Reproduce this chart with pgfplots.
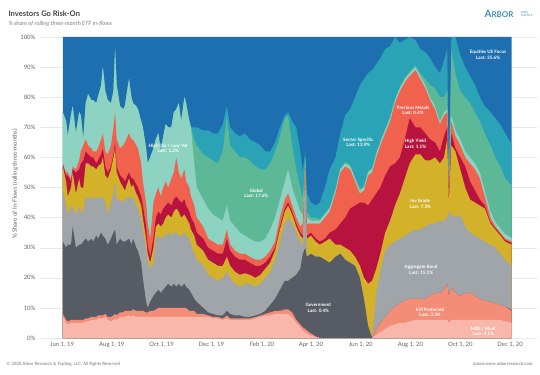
\documentclass[border=0pt]{standalone}
\usepackage{fontspec}
\setmainfont{Lato}
\usepackage{pgfplots}
\usepackage{pgfplotstable}
\pgfplotsset{compat=1.18}

\definecolor{cEq}{HTML}{1E6FB0}
\definecolor{cSec}{HTML}{2BA3B6}
\definecolor{cGlo}{HTML}{5CB896}
\definecolor{cHDV}{HTML}{8ED3C2}
\definecolor{cPM}{HTML}{F0614E}
\definecolor{cHY}{HTML}{B8133F}
\definecolor{cIG}{HTML}{D3B22A}
\definecolor{cAgg}{HTML}{A0A5AA}
\definecolor{cGov}{HTML}{575C64}
\definecolor{cInf}{HTML}{F38D77}
\definecolor{cMBS}{HTML}{F8B7AA}
\definecolor{cTxt}{HTML}{666666}
\definecolor{cLogo}{HTML}{3E8FB8}
\tikzset{lbl/.style={text=white, align=center, font=\fontsize{4.6}{5.6}\selectfont\bfseries}}

% d = days since Jun 1 2019; b1..b10 = cumulative tops of the stacked layers (percent)
\pgfplotstableread{
d b1 b2 b3 b4 b5 b6 b7 b8 b9 b10 t
1 7 8 32 49 57 57.5 58 75 75 75 100
5 5 6 30 44 52 54 55 72 72 72 100
7 4.5 5.5 31 41 47 54 55 67 67 67 100
11 5 6 31 44 50 52 53 74 74 74 100
13 5 6 37 43 55 56 57 77 77 77 100
17 5 6 30 41 48 55 56 68 68 68 100
21 5 6 31 44 53 56 59 75 75 75 100
23 5 6 31 42 50 58 62 74 74 74 100
26 5 6 32 42 50 59 64 66 66 66 100
29 5.5 6.5 33 47 58 62 66 78 78 78 100
32 5.5 6.5 32 46 58 61 64 81 81 81 100
36 6 7 33 47 57 60 63 79 79 79 100
38 6 7 32 46 57 60 62 79 79 79 100
42 6 7 34 47 56 58 62 78 78 78 100
44 6.5 7.5 33 46 57 59 63 80 80 80 100
48 6.5 7.5 35 47 58 61 66 84 84 84 100
50 6.5 7.5 34 47 60 63 68 90 90 90 100
53 7 8 33 45 54 57 62 82 82 82 100
56 6 7 31 41 53 55 61 79 79 79 100
60 5.5 7 33 45 56 57 64 78 78 78 100
63 6 7.5 35 48 60 61 70 82 82 82 100
65 6.5 8 36 52 63 65 75 96 96 96 100
67 6 7.5 31 46 55 57 66 84 84 84 100
71 7 8.5 33 46 52 54 63 77 77 77 100
75 7 8.5 32 45 50 53 64 76 76 76 100
77 7 9 32 46 49 52 65 77 77 77 100
82 7.5 9 33 47 53 55 68 86 86 86 100
85 7 9 31 46 50 53 66 80 80 80 100
87 7.5 9.5 33 47 51 53 66 78 78 78 100
91 7 9 30 44 48 51 64 77 77 77 100
93 7 9 29 43 47 50 63 76 76 76 100
97 7 9 25 40 44 47 58 72 72 72 100
99 7 9 20 36 40 44 52 70 70 70 100
103 7 8.5 12 30 33 37 45 63 63 63 100
105 7 8.5 10 26 28 31 38 58 58 58 100
108 7 9 12 23 25 27 33 60 60 60 100
112 7 9 14 25 30 33 45 63 63 63 100
115 7 9.5 15 33 37 40 48 66 66 66 100
118 7 10 16 34 38 42 50 68 68 68 100
121 7 10 15 33 37 41 47 62 62 62 100
124 7 10 16 34 38 43 50 67 67 67 100
127 7 10 17 34 40 44 52 71 71 71 100
130 7 10 18 35 41 45 50 70 70 70 100
134 7 10 17 34 40 44 53 70 70 70 100
137 7 10 18 35 42 46 55 75 75 75 100
140 7 10 17 35 43 47 60 76 76 76 100
143 7 10 18 34 42 46 55 78 78 78 100
146 7 10 17 34 40 45 53 72 72 72 100
150 7 10 18 35 41 46 56 80 80 80 100
152 7 10 17 34 40 44 52 78 78 78 100
156 7 9 16 33 38 42 50 72 72 72 100
158 7 9 15 31 36 40 47 70 70 70 100
162 7 9 13 28 34 38 44 58 66 70 100
165 7 8 12 26 31 35 40 50 64 70 100
173 7 8 10 24 29 33 37 46 61 69 100
179 7 7.5 8.5 21 26 30 33 43 60 69 100
185 6.5 7 8 20 25 29 32 41 59 68 100
191 6.5 7 7.5 19 24 28 31 40 58 68 100
197 6 6.5 7.5 20 24 28 31 39 62 71 100
202 6.5 7.5 9 22 27 33 36 44 74 77 100
206 6 6.5 8 20 24 29 31 39 64 70 100
212 6 6.5 7.5 18 22 27 29 37 62 68 100
218 6 6.5 7.5 17 21 26 28 35 60 67 100
224 6 6.5 7 18 21.5 26 28 34 60 68 100
230 6 6.5 7 18 21 25 27 33 59 66 100
237 6.5 7 7.5 17 20 24 26 32 57 65 100
243 7 7.5 8 18 21 24 26 32 56 64 100
249 7.5 8 9 20 23 25 27 33 56 62 100
255 7.5 8.5 11 22 25 27 29 36 58 62 100
261 8 9 13 26 29 30 32 40 62 65 100
267 8 9 16 32 36 37 40 46 67 70 100
273 8 9.5 19 38 42 43 46 52 73 74 100
277 8 9.5 19 40 44 45 48 56 74 75 100
282 7 8.5 20 38 41 42 44 50 64 72 100
287 5 6 21 35 37 38 40 46 56 70 100
292 3.5 4.5 23 32 34 35 37 42 50 62 100
295 2.5 3.5 28 31 33 34 38 41 46 55 100
298 2 3 30 55 56 56.5 57 58 60 62 100
300 1.5 2.5 27 27 33 34 38 40 42 48 100
305 0.8 1.5 28 28 34 35 38 39 40 45 100
311 0.3 0.5 27 27 32 33 38 39 40 44 100
316 0 0 27 27 31 32 38 39 39.5 45 100
322 0 0 26 26 32 33 40 41 41.5 50 100
328 0 0 25 25 33 35 42 43 43.5 56 100
335 0 0 27 27 31 36 48 49 49.5 60 100
341 0 0 28 28 31 38 55 56 56.5 68 100
347 0 0 26 26 30 40 57 58 58.5 74 100
353 0 0 25 25 29 43 56 57 57.5 76 100
359 0 0 24 24 27 44 52 53 53.5 80 100
365 0 0 20 20 24 45 48 49 49.5 84 100
370 0 0 13 13 20 45 49 50 50.5 86 100
375 0 0 4 4 18 44 54 55 55.5 88 100
380 0 0 0 0 19 46 55 56 56.5 89 100
385 1 3 3 15 23 48 60 61 61.5 91 100
390 2 5 5 22 28 50 64 65 65.5 93 100
396 3 7 7 29 35 54 68 69 69.5 96 100
402 4 9 9 31 39 57 72 73 73.5 97 100
408 4.5 10.5 10.5 32 44 58 78 79 79.5 100 100
414 5 11.5 11.5 33 48 60 82 83 83.5 98 100
420 5 12.5 12.5 34 53 66 85 86 86.5 99 100
426 5.5 13 13 35 58 73 87 88 88.5 100 100
433 6 13 13 36 61 70 89 90 90.5 99 100
439 6 13 13 36 61 70 86 87 88 96 100
445 6 13 13 37 59 68 83 84 86 95 100
451 6 14 14 38 59 66 79 80 84 93 100
457 6 15 15 38 60 65 76 77 83 90 100
463 6 15 15 39 58 62 71 72 80 88 100
468 6 16 16 39 60 67 74 75 80 92 100
472 6 18 18 40 66 70 75 76 82 96 100
474 5 14 14 42 45 46 47 48 49 50 100
477 6 17 17 41 64 68 72 74 96 100 100
482 6 15 15 40 62 63 67 69 88 100 100
488 6 14 14 41 56 60 64 66 82 94 100
494 6 15 15 37 50 57 60 62 80 90 100
500 6 15 15 35 46 52 58 60 78 87 100
506 6 14 14 34 45 49 56 58 75 84 100
512 6 13 13 33 44 46 53 55 72 80 100
518 6 12.5 12.5 32 43 44 47 49 68 77 100
525 6 12 12 31 38 38.5 40 42 64 75 100
531 6 11.5 11.5 30 36 36.5 37 38.5 60 73 100
537 6 11 11 28 34 34.5 35 36.5 57 71 100
543 5.5 10.5 10.5 26 32 32.5 33 34.5 53 68 100
551 5 9 9.4 24 31 31.6 32 33.2 50.6 64.4 100
}\flows

\begin{document}
\begin{tikzpicture}[x=1bp,y=1bp]
\path[use as bounding box, fill=white] (0,0) rectangle (540,374);
\begin{axis}[
  at={(40bp,36bp)}, anchor=south west,
  scale only axis, width=497bp, height=301bp,
  xmin=-27, xmax=582, ymin=0, ymax=100,
  xtick={0,61,122,183,245,305,366,427,488,549},
  xticklabels={{Jun 1, 19},{Aug 1, 19},{Oct 1, 19},{Dec 1, 19},{Feb 1, 20},{Apr 1, 20},{Jun 1, 20},{Aug 1, 20},{Oct 1, 20},{Dec 1, 20}},
  ytick={0,10,...,100},
  yticklabel={\pgfmathprintnumber{\tick}\%},
  /pgf/number format/assume math mode=true,
  ymajorgrids, grid style={black!9, line width=0.4pt},
  axis line style={draw=none}, major tick length=0pt,
  tick label style={font=\fontsize{6}{7}\selectfont, text=cTxt},
  xticklabel style={yshift=-1bp},
  yticklabel style={xshift=-1bp},
]
\addplot[fill=cEq, draw=none] table[x=d,y=t]{\flows} \closedcycle;
\addplot[fill=cSec, draw=none] table[x=d,y=b10]{\flows} \closedcycle;
\addplot[fill=cGlo, draw=none] table[x=d,y=b9]{\flows} \closedcycle;
\addplot[fill=cHDV, draw=none] table[x=d,y=b8]{\flows} \closedcycle;
\addplot[fill=cPM, draw=none] table[x=d,y=b7]{\flows} \closedcycle;
\addplot[fill=cHY, draw=none] table[x=d,y=b6]{\flows} \closedcycle;
\addplot[fill=cIG, draw=none] table[x=d,y=b5]{\flows} \closedcycle;
\addplot[fill=cAgg, draw=none] table[x=d,y=b4]{\flows} \closedcycle;
\addplot[fill=cGov, draw=none] table[x=d,y=b3]{\flows} \closedcycle;
\addplot[fill=cInf, draw=none] table[x=d,y=b2]{\flows} \closedcycle;
\addplot[fill=cMBS, draw=none] table[x=d,y=b1]{\flows} \closedcycle;

\node[lbl] at (axis cs:522,94) {Equities US Focus\\Last: 35.6\%};
\node[lbl] at (axis cs:363,65) {Sector Specific\\Last: 13.9\%};
\node[lbl] at (axis cs:238,48) {Global\\Last: 17.6\%};
\node[lbl] at (axis cs:130,63) {High Div + Low Vol\\Last: 1.2\%};
\node[lbl] at (axis cs:430,75.6) {Precious Metals\\Last: 0.4\%};
\node[lbl] at (axis cs:433,64.5) {High Yield\\Last: 1.1\%};
\node[lbl] at (axis cs:439,44.5) {Inv Grade\\Last: 7.3\%};
\node[lbl] at (axis cs:440,22.6) {Aggregate Bond\\Last: 15.1\%};
\node[lbl] at (axis cs:451,8.6) {Infl Protected\\Last: 3.3\%};
\node[lbl] at (axis cs:516,2.2) {MBS / Muni\\Last: 4.1\%};
\node[lbl] at (axis cs:314,10) {Government\\Last: 0.4\%};
\end{axis}

\node[anchor=west, font=\fontsize{7.6}{9}\selectfont\bfseries, text=black!75] at (5,360) {Investors Go Risk-On};
\node[anchor=west, font=\fontsize{5.8}{7}\selectfont\itshape, text=black!50] at (5,350) {\% share of rolling three-month ETF in-flows};
\node[rotate=90, font=\fontsize{6}{7}\selectfont, text=cTxt] at (15,190) {\% Share of In-Flows (rolling three-months)};
\node[anchor=east, font=\fontsize{10}{11}\selectfont\bfseries, text=cLogo] at (517,360) {A\fontsize{8}{9}\selectfont RBOR};
\node[anchor=west, align=left, font=\fontsize{2.8}{3.2}\selectfont, text=cLogo] at (517.5,360) {DATA\\SCIENCE};
\node[anchor=west, font=\fontsize{4.4}{5}\selectfont, text=black!55] at (3,10) {\textcopyright{} 2020 Arbor Research \& Trading, LLC. All Rights Reserved};
\node[anchor=east, font=\fontsize{4.4}{5}\selectfont, text=black!55] at (536,10) {datascience.arborresearch.com};
\end{tikzpicture}
\end{document}
